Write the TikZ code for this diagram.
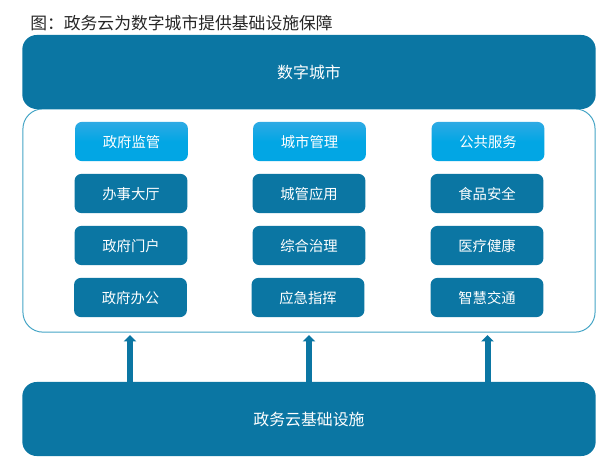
\documentclass[tikz,border=0pt]{standalone}
\usepackage{fontspec}
\setmainfont{Noto Sans CJK SC}
\usetikzlibrary{arrows.meta, positioning}
\definecolor{deepblue}{HTML}{0B76A3}
\definecolor{skytop}{HTML}{2EAAE4}
\definecolor{skybot}{HTML}{02A6E4}
\definecolor{panelline}{HTML}{45A5C6}
\tikzset{
    band/.style={fill=deepblue, rounded corners=0.36cm, minimum width=14.33cm, minimum height=1.85cm, text=white, text height=1em, text depth=0.1em, font=\fontsize{11.3pt}{13pt}\selectfont},
    lightbox/.style={top color=skytop, bottom color=skybot, middle color=skybot, rounded corners=0.17cm, minimum width=2.82cm, minimum height=0.98cm, text=white, text height=1em, text depth=0.1em, font=\fontsize{10.2pt}{12pt}\selectfont},
    darkbox/.style={fill=deepblue, rounded corners=0.17cm, minimum width=2.82cm, minimum height=0.98cm, text=white, text height=1em, text depth=0.1em, font=\fontsize{10.2pt}{12pt}\selectfont},
    flow/.style={deepblue, line width=0.15cm, -{Triangle[width=0.31cm,length=0.16cm]}}
}
\begin{document}
\begin{tikzpicture}[x=0.025cm, y=-0.025cm]
    \useasboundingbox (0, 0) rectangle (600, 461);

    % title
    \node[anchor=west, inner sep=0pt, font=\fontsize{11.95pt}{14pt}\selectfont, text=black!85] (title) at (30, 23) {图：政务云为数字城市提供基础设施保障};

    % middle panel
    \node[draw=panelline, line width=0.7pt, fill=white, rounded corners=0.5cm, minimum width=14.3cm, minimum height=5.58cm] (panel) at (309, 220.5) {};

    % top and bottom bands
    \node[band] (city) at (309, 72) {数字城市};
    \node[band] (infra) at (309, 419) {政务云基础设施};

    % left column
    \node[lightbox] (jianguan) at (131.5, 141.5) {政府监管};
    \node[darkbox] (dating) at (131, 193.5) {办事大厅};
    \node[darkbox] (menhu) at (131, 245.5) {政府门户};
    \node[darkbox] (bangong) at (130.5, 297.5) {政府办公};

    % middle column
    \node[lightbox] (guanli) at (309.5, 141.5) {城市管理};
    \node[darkbox] (chengguan) at (309, 193.5) {城管应用};
    \node[darkbox] (zhili) at (309, 245.5) {综合治理};
    \node[darkbox] (yingji) at (308, 297.5) {应急指挥};

    % right column
    \node[lightbox] (fuwu) at (488, 141.5) {公共服务};
    \node[darkbox] (shipin) at (487, 193.5) {食品安全};
    \node[darkbox] (yiliao) at (487, 245.5) {医疗健康};
    \node[darkbox] (jiaotong) at (487, 297.5) {智慧交通};

    % arrows up into the panel
    \coordinate (leftup) at (130, 335);
    \coordinate (midup) at (309, 335);
    \coordinate (rightup) at (487.5, 335);
    \draw[flow] (infra.north -| leftup) -- (leftup);
    \draw[flow] (infra.north -| midup) -- (midup);
    \draw[flow] (infra.north -| rightup) -- (rightup);
\end{tikzpicture}
\end{document}
